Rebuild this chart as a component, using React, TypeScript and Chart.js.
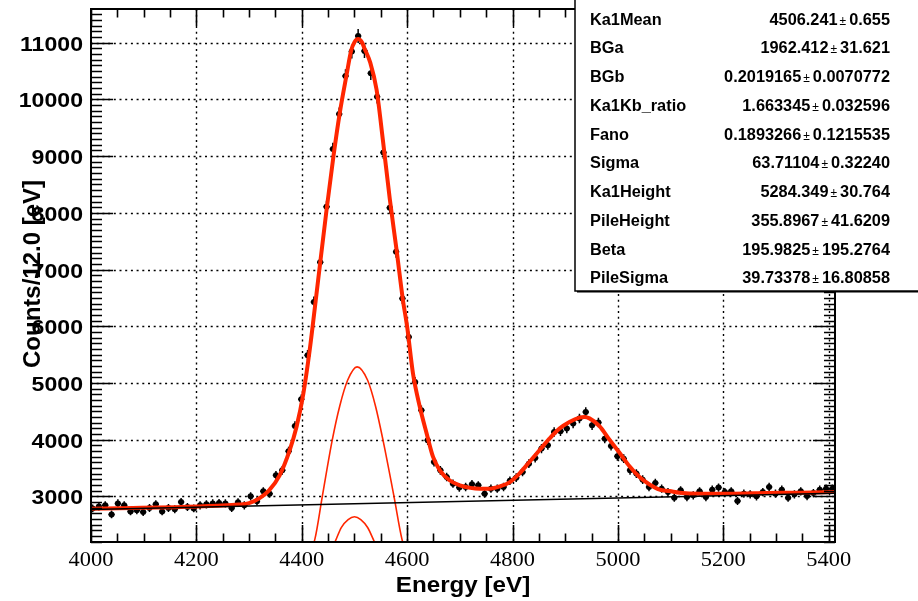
import React, { useEffect, useRef } from 'react';
import { Chart, registerables } from 'chart.js';

Chart.register(...registerables);

// ---------- data ----------
const histStart = 3997; // histogram low edge (eV)
const binWidth = 12; // eV per bin
const counts = [
  2788, 2823, 2841, 2682, 2876, 2841, 2735, 2753, 2723, 2793,
  2859, 2735, 2793, 2771, 2899, 2811, 2788, 2841, 2859, 2876,
  2882, 2876, 2793, 2894, 2841, 3000, 2912, 3088, 3048, 3371,
  3459, 3794, 4241, 4712, 5489, 6429, 7130, 8106, 9125, 9742,
  10413, 10844, 11119, 10854, 10461, 10048, 9063, 8092, 7312, 6489,
  5812, 5017, 4518, 3988, 3606, 3459, 3341, 3224, 3154, 3164,
  3212, 3194, 3048, 3136, 3136, 3164, 3274, 3330, 3429, 3577,
  3676, 3842, 3900, 4135, 4147, 4195, 4283, 4371, 4488, 4253,
  4301, 4018, 3888, 3706, 3665, 3459, 3401, 3295, 3164, 3235,
  3136, 3076, 2977, 3106, 2988, 3018, 3088, 2988, 3118, 3154,
  3076, 3088, 2917, 3048, 3035, 3000, 3076, 3164, 3048, 3118,
  2977, 3035, 3088, 3005, 3058, 3118, 3136, 3136,
];

// total fit curve
const fitE = [
  4000, 4080, 4160, 4240, 4280, 4300, 4320, 4338, 4358, 4377,
  4390, 4403, 4415, 4425, 4436, 4447, 4460, 4472, 4485, 4494,
  4500, 4507, 4514, 4519, 4530, 4542, 4554, 4567, 4580, 4592,
  4600, 4611, 4624, 4637, 4649, 4662, 4681, 4700, 4720, 4738,
  4757, 4776, 4795, 4813, 4832, 4851, 4870, 4889, 4908, 4927,
  4937, 4946, 4965, 4984, 5003, 5022, 5041, 5060, 5079, 5098,
  5117, 5155, 5218, 5282, 5345, 5412,
];
const fitC = [
  2783, 2795, 2810, 2835, 2855, 2880, 2970, 3106, 3371, 3812,
  4223, 4813, 5577, 6341, 7200, 8048, 8989, 9755, 10431, 10872,
  11010, 11066, 11010, 10900, 10650, 10170, 9280, 8250, 7340, 6460,
  5990, 5170, 4580, 4110, 3700, 3460, 3280, 3195, 3150, 3135,
  3136, 3176, 3252, 3401, 3606, 3812, 4018, 4195, 4311, 4389,
  4400, 4375, 4240, 4000, 3770, 3530, 3340, 3210, 3120, 3094,
  3065, 3048, 3048, 3058, 3065, 3076,
];

// Ka1 component (thin)
const ka1E = [4412, 4425, 4439, 4458, 4472, 4487, 4505, 4525, 4540, 4554, 4575, 4590, 4602];
const ka1C = [1950, 2250, 3000, 4000, 4590, 5047, 5284, 5047, 4590, 4000, 3000, 2250, 1900];

// Ka2 component (thin, small)
const ka2E = [4452, 4463, 4475, 4488, 4500, 4512, 4525, 4538, 4548];
const ka2C = [2000, 2195, 2450, 2590, 2640, 2590, 2450, 2195, 2000];

// linear background
const bgE = [4000, 5412];
const bgC = [2770, 3055];

// axes
const xRange = [4000, 5412];
const yRange = [2195, 11595];
const xTickLabels = [4000, 4200, 4400, 4600, 4800, 5000, 5200, 5400];
const yTickLabels = [3000, 4000, 5000, 6000, 7000, 8000, 9000, 10000, 11000];
const xMinorStep = 50;
const yMinorStep = 100;
const xTitle = 'Energy [eV]';
const yTitle = 'Counts/12.0 [eV]';

// fit statistics box
const statNames = ['Ka1Mean', 'BGa', 'BGb', 'Ka1Kb_ratio', 'Fano', 'Sigma', 'Ka1Height', 'PileHeight', 'Beta', 'PileSigma'];
const statValues = ['4506.241', '1962.412', '0.2019165', '1.663345', '0.1893266', '63.71104', '5284.349', '355.8967', '195.9825', '39.73378'];
const statErrors = ['0.655', '31.621', '0.0070772', '0.032596', '0.1215535', '0.32240', '30.764', '41.6209', '195.2764', '16.80858'];

// ---------- styling ----------
const RED = 'rgb(255,38,0)';
const SANS = '"Liberation Sans", Arial, Helvetica, sans-serif';
const SERIF = '"Liberation Serif", "Times New Roman", serif';

function stretchText(ctx: CanvasRenderingContext2D, text: string, x: number, y: number, font: string, align: CanvasTextAlign, sx = 1) {
  ctx.save();
  ctx.font = font;
  ctx.translate(x, y);
  ctx.scale(sx, 1);
  ctx.textAlign = align;
  ctx.textBaseline = 'alphabetic';
  ctx.fillStyle = '#000';
  ctx.fillText(text, 0, 0);
  ctx.restore();
}

const rootPlugin = {
  id: 'rootStyle',
  beforeDatasetsDraw(chart: any) {
    const { ctx, chartArea: a, scales } = chart;
    const x = scales.x, y = scales.y;
    ctx.save();
    ctx.strokeStyle = '#000';
    ctx.lineWidth = 1.4;
    ctx.setLineDash([2, 3.7]);
    for (const v of xTickLabels) {
      const px = Math.round(x.getPixelForValue(v)) + 0.5;
      if (px <= a.left + 2 || px >= a.right - 2) continue;
      ctx.beginPath();
      ctx.moveTo(px, a.top);
      ctx.lineTo(px, a.bottom);
      ctx.stroke();
    }
    for (const v of yTickLabels) {
      const py = Math.round(y.getPixelForValue(v)) + 0.5;
      ctx.beginPath();
      ctx.moveTo(a.left, py);
      ctx.lineTo(a.right, py);
      ctx.stroke();
    }
    ctx.restore();
  },
  afterDatasetDraw(chart: any, args: any) {
    if (args.meta.label !== 'data') return;
    const { ctx, chartArea: a, scales } = chart;
    const x = scales.x, y = scales.y;
    ctx.save();
    ctx.beginPath();
    ctx.rect(a.left, a.top, a.width, a.height);
    ctx.clip();
    ctx.strokeStyle = '#000';
    ctx.lineWidth = 1.5;
    counts.forEach((c, i) => {
      const e = histStart + binWidth * (i + 0.5);
      const err = Math.sqrt(c);
      const px = x.getPixelForValue(e);
      const py = y.getPixelForValue(c);
      ctx.beginPath();
      ctx.moveTo(x.getPixelForValue(e - binWidth / 2), py);
      ctx.lineTo(x.getPixelForValue(e + binWidth / 2), py);
      ctx.moveTo(px, y.getPixelForValue(c - err) + 1);
      ctx.lineTo(px, y.getPixelForValue(c + err) - 1);
      ctx.stroke();
    });
    ctx.restore();
  },
  afterDatasetsDraw(chart: any) {
    const { ctx, chartArea: a, scales } = chart;
    const x = scales.x, y = scales.y;
    ctx.save();
    ctx.strokeStyle = '#000';
    ctx.setLineDash([]);
    // ticks
    ctx.lineWidth = 1.6;
    ctx.beginPath();
    for (let v = xRange[0]; v <= xRange[1]; v += xMinorStep) {
      const major = xTickLabels.includes(v);
      const len = major ? 17 : 8.5;
      const px = Math.round(x.getPixelForValue(v)) + 0.5;
      ctx.moveTo(px, a.bottom);
      ctx.lineTo(px, a.bottom - len);
      ctx.moveTo(px, a.top);
      ctx.lineTo(px, a.top + len);
    }
    const y0 = Math.ceil(yRange[0] / yMinorStep) * yMinorStep;
    for (let v = y0; v <= yRange[1]; v += yMinorStep) {
      const major = yTickLabels.includes(v);
      const len = major ? 22 : 11;
      const py = Math.round(y.getPixelForValue(v)) + 0.5;
      ctx.moveTo(a.left, py);
      ctx.lineTo(a.left + len, py);
      ctx.moveTo(a.right, py);
      ctx.lineTo(a.right - len, py);
    }
    ctx.stroke();
    // frame
    ctx.lineWidth = 2;
    ctx.strokeRect(a.left, a.top, a.width, a.height);
    ctx.restore();

    // tick labels
    for (const v of xTickLabels) {
      stretchText(ctx, String(v), x.getPixelForValue(v), a.bottom + 23.5, `22px ${SERIF}`, 'center', 1.02);
    }
    for (const v of yTickLabels) {
      stretchText(ctx, String(v), a.left - 8, y.getPixelForValue(v) + 8, `bold 21px ${SANS}`, 'right', 1.1);
    }
    // axis titles
    stretchText(ctx, xTitle, (a.left + a.right) / 2, 592, `bold 22px ${SANS}`, 'center', 1.1);
    ctx.save();
    ctx.translate(40, 274);
    ctx.rotate(-Math.PI / 2);
    stretchText(ctx, yTitle, 0, 0, `bold 24px ${SANS}`, 'center');
    ctx.restore();
  },
  afterDraw(chart: any) {
    const { ctx } = chart;
    ctx.save();
    const bx = 575, by = -4, bw = 360, bh = 295;
    ctx.fillStyle = '#fff';
    ctx.fillRect(bx, by, bw, bh);
    ctx.strokeStyle = '#000';
    ctx.lineWidth = 1.5;
    ctx.strokeRect(bx, by, bw, bh);
    ctx.fillStyle = '#000';
    ctx.fillRect(bx + 2, by + bh, bw, 1.5);
    ctx.restore();
    const rowTop = 24.5, rowStep = 28.75;
    const nameFont = `bold 16px ${SANS}`;
    statNames.forEach((name, i) => {
      const base = rowTop + i * rowStep;
      stretchText(ctx, name, 590, base, nameFont, 'left', 1.02);
      ctx.save();
      ctx.font = nameFont;
      const errW = ctx.measureText(statErrors[i]).width * 1.02;
      ctx.font = `12px ${SANS}`;
      const pmW = ctx.measureText('\u00b1').width;
      ctx.restore();
      const right = 890;
      stretchText(ctx, statErrors[i], right, base, nameFont, 'right', 1.02);
      const pmRight = right - errW - 3;
      stretchText(ctx, '\u00b1', pmRight, base, `12px ${SANS}`, 'right');
      stretchText(ctx, statValues[i], pmRight - pmW - 2, base, nameFont, 'right', 1.02);
    });
  },
};

function pairs(xs: number[], ys: number[]) {
  return xs.map((v, i) => ({ x: v, y: ys[i] }));
}

export default function App() {
  const ref = useRef<HTMLCanvasElement | null>(null);
  useEffect(() => {
    document.body.style.margin = '0';
    const canvas = ref.current;
    if (!canvas) return;
    const dataPts = counts.map((c, i) => ({ x: histStart + binWidth * (i + 0.5), y: c }));
    const chart = new Chart(canvas, {
      type: 'scatter',
      data: {
        datasets: [
          {
            label: 'background',
            data: pairs(bgE, bgC),
            showLine: true,
            borderColor: '#000',
            borderWidth: 1.5,
            pointRadius: 0,
            order: 0,
          },
          {
            label: 'fit',
            data: pairs(fitE, fitC),
            showLine: true,
            borderColor: RED,
            borderWidth: 4,
            pointRadius: 0,
            cubicInterpolationMode: 'monotone',
            order: 1,
          },
          {
            label: 'ka1',
            data: pairs(ka1E, ka1C),
            showLine: true,
            borderColor: RED,
            borderWidth: 1.6,
            pointRadius: 0,
            cubicInterpolationMode: 'monotone',
            order: 2,
          },
          {
            label: 'ka2',
            data: pairs(ka2E, ka2C),
            showLine: true,
            borderColor: RED,
            borderWidth: 1.6,
            pointRadius: 0,
            cubicInterpolationMode: 'monotone',
            order: 3,
          },
          {
            label: 'data',
            data: dataPts,
            showLine: false,
            pointRadius: 3,
            pointBackgroundColor: '#000',
            pointBorderWidth: 0,
            order: 4,
          },
        ],
      } as any,
      options: {
        responsive: false,
        animation: false,
        events: [],
        layout: { padding: { left: 91, right: 83, top: 9, bottom: 59 } },
        plugins: { legend: { display: false }, tooltip: { enabled: false } },
        scales: {
          x: { type: 'linear', display: false, min: xRange[0], max: xRange[1] },
          y: { type: 'linear', display: false, min: yRange[0], max: yRange[1] },
        },
      } as any,
      plugins: [rootPlugin as any],
    });
    return () => chart.destroy();
  }, []);
  return (
    <div style={{ width: 918, height: 601 }}>
      <canvas ref={ref} width={918} height={601} style={{ display: 'block' }} />
    </div>
  );
}
